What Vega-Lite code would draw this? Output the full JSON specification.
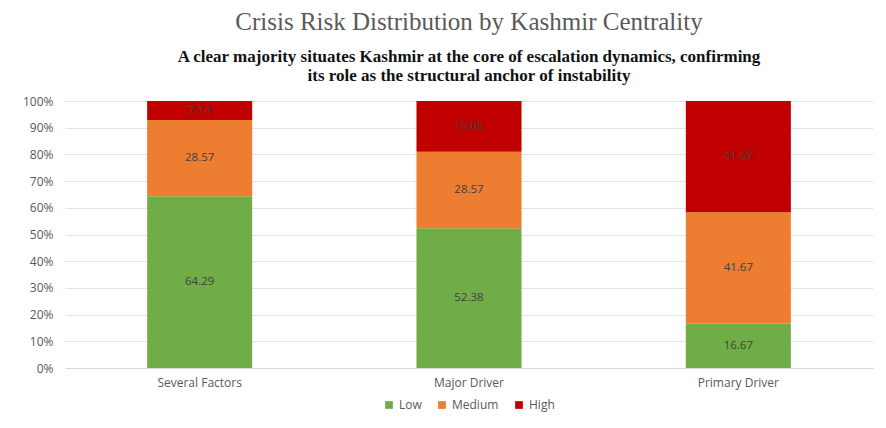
{
  "$schema": "https://vega.github.io/schema/vega-lite/v6.json",
  "width": 886,
  "height": 428,
  "autosize": {"type": "fit", "contains": "padding"},
  "padding": {"left": 22, "right": 13, "top": 10, "bottom": 17},
  "background": "#ffffff",
  "title": {
    "text": "Crisis Risk Distribution by Kashmir Centrality",
    "subtitle": ["A clear majority situates Kashmir at the core of escalation dynamics, confirming", "its role as the structural anchor of instability"],
    "anchor": "middle",
    "font": "Liberation Serif",
    "fontSize": 25,
    "fontWeight": "normal",
    "color": "#595959",
    "subtitleFont": "Liberation Serif",
    "subtitleFontSize": 17,
    "subtitleFontWeight": "bold",
    "subtitleColor": "#111111",
    "subtitleLineHeight": 19,
    "subtitlePadding": 14,
    "offset": 11
  },
  "data": {
    "values": [
      {"category": "Several Factors", "level": "Low", "order": 1, "value": 64.29},
      {"category": "Several Factors", "level": "Medium", "order": 2, "value": 28.57},
      {"category": "Several Factors", "level": "High", "order": 3, "value": 7.14},
      {"category": "Major Driver", "level": "Low", "order": 1, "value": 52.38},
      {"category": "Major Driver", "level": "Medium", "order": 2, "value": 28.57},
      {"category": "Major Driver", "level": "High", "order": 3, "value": 19.05},
      {"category": "Primary Driver", "level": "Low", "order": 1, "value": 16.67},
      {"category": "Primary Driver", "level": "Medium", "order": 2, "value": 41.67},
      {"category": "Primary Driver", "level": "High", "order": 3, "value": 41.67}
    ]
  },
  "transform": [
    {"stack": "value", "groupby": ["category"], "sort": [{"field": "order", "order": "ascending"}], "as": ["y0", "y1"], "offset": "normalize"},
    {"calculate": "(datum.y0 + datum.y1) / 2", "as": "ymid"}
  ],
  "encoding": {
    "x": {
      "field": "category",
      "type": "nominal",
      "sort": ["Several Factors", "Major Driver", "Primary Driver"],
      "scale": {"paddingInner": 0.61, "paddingOuter": 0.305},
      "axis": {"title": null, "labelAngle": 0, "domain": true, "domainColor": "#d9d9d9", "ticks": false, "labelFont": "Open Sans", "labelFontSize": 12, "labelColor": "#595959", "labelPadding": 9}
    }
  },
  "layer": [
    {
      "mark": {"type": "bar"},
      "encoding": {
        "y": {
          "field": "y0",
          "type": "quantitative",
          "scale": {"domain": [0, 1]},
          "axis": {"title": null, "format": "%", "values": [0, 0.1, 0.2, 0.3, 0.4, 0.5, 0.6, 0.7, 0.8, 0.9, 1], "labelOverlap": false, "domain": false, "ticks": false, "grid": true, "gridColor": "#e3e3e3", "labelFont": "Open Sans", "labelFontSize": 12, "labelColor": "#595959", "labelPadding": 12}
        },
        "y2": {"field": "y1"},
        "color": {
          "field": "level",
          "type": "nominal",
          "scale": {"domain": ["Low", "Medium", "High"], "range": ["#70ad47", "#ed7d31", "#c00000"]},
          "legend": {"title": null, "orient": "bottom", "direction": "horizontal", "offset": 11, "symbolType": "square", "symbolSize": 60, "labelFont": "Open Sans", "labelFontSize": 12, "labelColor": "#595959", "columnPadding": 14, "symbolStrokeWidth": 0}
        }
      }
    },
    {
      "mark": {"type": "text", "font": "Open Sans", "fontSize": 11.5, "color": "#404040"},
      "encoding": {
        "y": {
          "field": "ymid",
          "type": "quantitative",
          "scale": {"domain": [0, 1]},
          "axis": {"title": null, "format": "%", "values": [0, 0.1, 0.2, 0.3, 0.4, 0.5, 0.6, 0.7, 0.8, 0.9, 1], "labelOverlap": false, "domain": false, "ticks": false, "grid": true, "gridColor": "#e3e3e3", "labelFont": "Open Sans", "labelFontSize": 12, "labelColor": "#595959", "labelPadding": 12}
        },
        "text": {"field": "value", "type": "quantitative", "format": ".2f"}
      }
    }
  ],
  "config": {
    "view": {"stroke": null},
    "legend": {"layout": {"bottom": {"anchor": "middle"}}}
  }
}
